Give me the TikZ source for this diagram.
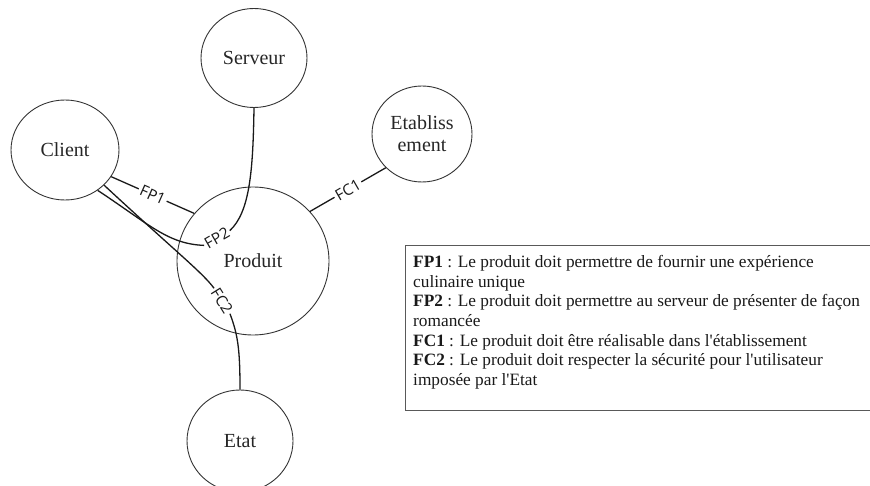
\documentclass[tikz,border=0pt]{standalone}
\usepackage{fontspec}
\setmainfont{Liberation Serif}[Ligatures=TeXOff]
\newfontfamily\lblfont{Open Sans}
\usetikzlibrary{shapes.geometric}
\begin{document}
\begin{tikzpicture}[x=1pt,y=-1pt,
  actor/.style={ellipse, draw=black!80, line width=0.9pt, inner sep=0pt, align=center,
    font=\fontsize{20}{22}\selectfont, text=black!85},
  link/.style={draw=black!90, line width=1.3pt},
  lbl/.style={font=\lblfont\fontsize{15.5}{15.5}\selectfont, inner sep=2pt, text=black!90, fill=white},
  legendbox/.style={draw=black!65, line width=1pt, anchor=north west, inner sep=0pt},
]
\useasboundingbox (0,0) rectangle (870,486);
% actors
\node[actor, minimum width=108pt, minimum height=100pt] (client) at (65,150) {Client};
\node[actor, minimum width=106pt, minimum height=99pt] (serveur) at (254,58) {Serveur};
\node[actor, minimum width=100pt, minimum height=96pt] (etab) at (422,134) {Etabliss\\ement};
\node[actor, minimum width=152pt, minimum height=148pt] (produit) at (253,261) {Produit};
\node[actor, minimum width=106pt, minimum height=102pt] (etat) at (240,441) {Etat};
% FP1
\draw[link] (client.-30) -- (produit.141) node[lbl, midway, sloped] (fp1) {FP1};
% FC1
\draw[link] (produit.41) -- (etab.223) node[lbl, midway, sloped] (fc1) {FC1};
% FP2
\node[lbl, rotate=30, fill=none, inner sep=1.5pt] (fp2) at (217,238) {FP2};
\draw[link] (client.-51) .. controls (150,225) and (168,244) .. (fp2.west);
\draw[link] (fp2.east) .. controls (250,212) and (253,170) .. (serveur.south);
% FC2
\node[lbl, rotate=-58, fill=none, inner sep=1.5pt] (fc2) at (222,301) {FC2};
\draw[link] (client.-42) .. controls (175,251) and (203,273) .. (fc2.west);
\draw[link] (fc2.east) .. controls (238,335) and (240,350) .. (etat.north);
% legend
\node[legendbox, minimum width=475pt, minimum height=165pt] (box) at (405,245) {};
\node[anchor=north west, inner sep=0pt, align=left, text=black!90,
  font=\fontsize{17.3}{19.7}\selectfont] (legend) at (413,255)
{\textbf{FP1} : Le produit doit permettre de fournir une expérience\\
culinaire unique\\
\textbf{FP2} : Le produit doit permettre au serveur de présenter de façon\\
romancée\\
\textbf{FC1} : Le produit doit être réalisable dans l'établissement\\
\textbf{FC2} : Le produit doit respecter la sécurité pour l'utilisateur\\
imposée par l'Etat};
\end{tikzpicture}
\end{document}
